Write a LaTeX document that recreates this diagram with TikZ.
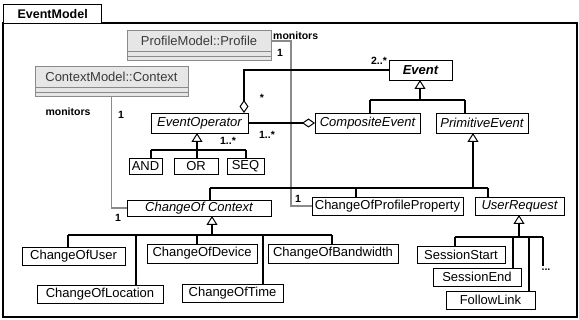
\documentclass[tikz,border=0pt]{standalone}
\usepackage{fontspec}
\setmainfont{Liberation Sans}
\usetikzlibrary{arrows.meta,calc}
\definecolor{gbox}{HTML}{E6E6E6}
\definecolor{gline}{HTML}{8A8A8A}
\definecolor{gtext}{HTML}{3A3A3A}
\begin{document}
\begin{tikzpicture}[x=1pt,y=-1pt,
  cls/.style={draw=black, line width=0.9pt, fill=white, inner sep=0pt, outer sep=0pt,
    anchor=north west, font=\fontsize{13}{15}\selectfont},
  abscls/.style={cls, font=\fontsize{13}{15}\selectfont\itshape},
  gcls/.style={draw=gline, line width=1pt, fill=gbox, inner sep=0pt, outer sep=0pt,
    anchor=north west},
  gtxt/.style={text=gtext, font=\fontsize{13}{15}\selectfont, inner sep=0pt},
  frm/.style={draw=black, line width=1.3pt},
  ln/.style={draw=black, line width=1.8pt},
  gen/.style={ln, -{Triangle[open, length=9pt, width=11pt, line width=1pt]}},
  agg/.style={ln, -{Diamond[open, length=13pt, width=9pt, line width=1pt]}},
  gln/.style={draw=gline, line width=1.2pt},
  lbl/.style={font=\bfseries\fontsize{10.5}{12}\selectfont, inner sep=0pt}
]
\useasboundingbox (0,0) rectangle (579,320);
% package frame
\draw[frm] (3,23) rectangle (577,317);
\node[frm, fill=white, anchor=north west, minimum width=98pt, minimum height=19pt, inner sep=0pt,
  font=\bfseries\fontsize{12.5}{14}\selectfont] (tab) at (3,4) {EventModel};

% gray classes
\node[gcls, minimum width=144pt, minimum height=30pt] (Profile) at (127,31) {};
\node[gtxt] (ProfileName) at ($(Profile.north)+(0,10)$) {ProfileModel::Profile};
\draw[gln, line width=0.8pt] ($(Profile.north west)+(0,20)$) -- ($(Profile.north east)+(0,20)$);
\draw[gln, line width=0.8pt] ($(Profile.north west)+(0,25)$) -- ($(Profile.north east)+(0,25)$);

\node[gcls, minimum width=153pt, minimum height=30pt] (Context) at (35,67) {};
\node[gtxt] (ContextName) at ($(Context.north)+(0,10)$) {ContextModel::Context};
\draw[gln, line width=0.8pt] ($(Context.north west)+(0,20)$) -- ($(Context.north east)+(0,20)$);
\draw[gln, line width=0.8pt] ($(Context.north west)+(0,25)$) -- ($(Context.north east)+(0,25)$);

% classes
\node[cls, minimum width=63pt, minimum height=20pt, font=\fontsize{13}{15}\selectfont\bfseries\itshape] (Event) at (389,60) {Event};
\node[abscls, minimum width=97pt, minimum height=20pt] (EvOp) at (151,113) {EventOperator};
\node[abscls, minimum width=105pt, minimum height=20pt] (Comp) at (315,113) {CompositeEvent};
\node[abscls, minimum width=92pt, minimum height=20pt] (Prim) at (436,113) {PrimitiveEvent};
\node[cls, minimum width=33pt, minimum height=16pt] (AND) at (129,158) {AND};
\node[cls, minimum width=44pt, minimum height=16pt] (OR) at (174,158) {OR};
\node[cls, minimum width=37pt, minimum height=16pt] (SEQ) at (227,158) {SEQ};
\node[abscls, minimum width=144pt, minimum height=16pt] (CoC) at (127,200) {ChangeOf Context};
\node[cls, minimum width=151pt, minimum height=18pt] (CoPP) at (312,197) {ChangeOfProfileProperty};
\node[abscls, minimum width=89pt, minimum height=18pt] (UR) at (475,197) {UserRequest};
\node[cls, minimum width=103pt, minimum height=18pt] (CoU) at (22,247) {ChangeOfUser};
\node[cls, minimum width=110pt, minimum height=19pt] (CoD) at (147,244) {ChangeOfDevice};
\node[cls, minimum width=130pt, minimum height=19pt] (CoB) at (268,244) {ChangeOfBandwidth};
\node[cls, minimum width=126pt, minimum height=18pt] (CoL) at (37,285) {ChangeOfLocation};
\node[cls, minimum width=101pt, minimum height=18pt] (CoT) at (182,284) {ChangeOfTime};
\node[cls, minimum width=88pt, minimum height=17pt] (SS) at (417,246) {SessionStart};
\node[cls, minimum width=88pt, minimum height=18pt] (SE) at (433,268) {SessionEnd};
\node[cls, minimum width=89pt, minimum height=18pt] (FL) at (446,291) {FollowLink};

% gray associations
\draw[gln] ($(Profile.north east)+(0,10)$) -- ++(20,0) |- (CoPP.west);
\draw[gln] (Context.south) |- (CoC.west);

% aggregations
\draw[agg] (Event.west) -| ($(EvOp.north east)+(-4,0)$);
\draw[agg] (EvOp.east) -- (Comp.west);

% generalization: Event
\coordinate (jE) at (420,100);
\coordinate (jEl) at (370,100);
\coordinate (jEr) at (465,100);
\draw[ln] (jEl) -- (jEr);
\draw[ln] (jEl) -- (jEl |- Comp.north);
\draw[ln] (jEr) -- (jEr |- Prim.north);
\draw[gen] (jE) -- (jE |- Event.south);

% generalization: EventOperator
\coordinate (jO) at (197,150);
\coordinate (jOl) at (151,150);
\coordinate (jOr) at (246,150);
\draw[ln] (jOl) -- (jOr);
\draw[ln] (jOl) -- (jOl |- AND.north);
\draw[ln] (jO) -- (jO |- OR.north);
\draw[ln] (jOr) -- (jOr |- SEQ.north);
\draw[gen] (jO) -- (jO |- EvOp.south);

% generalization: PrimitiveEvent
\coordinate (jP) at (473,188);
\coordinate (jPl) at (210,188);
\coordinate (jPm) at (356,188);
\coordinate (jPr) at (488,188);
\draw[ln] (jPl) -- (jPr);
\draw[ln] (jPl) -- (jPl |- CoC.north);
\draw[ln] (jPm) -- (jPm |- CoPP.north);
\draw[ln] (jPr) -- (jPr |- UR.north);
\draw[gen] (jP) -- (jP |- Prim.south);

% generalization: ChangeOf Context
\coordinate (jC) at (212,235);
\coordinate (jC1) at (68,235);
\coordinate (jC2) at (136,235);
\coordinate (jC3) at (197,235);
\coordinate (jC4) at (263,235);
\coordinate (jC5) at (332,235);
\draw[ln] (jC1) -- (jC5);
\draw[ln] (jC1) -- (jC1 |- CoU.north);
\draw[ln] (jC2) -- (jC2 |- CoL.north);
\draw[ln] (jC3) -- (jC3 |- CoD.north);
\draw[ln] (jC4) -- (jC4 |- CoT.north);
\draw[ln] (jC5) -- (jC5 |- CoB.north);
\draw[gen] (jC) -- (jC |- CoC.south);

% generalization: UserRequest
\coordinate (jU) at (519,237);
\coordinate (jU1) at (455,237);
\coordinate (jU2) at (513,237);
\coordinate (jU3) at (529,237);
\coordinate (jU4) at (543,237);
\coordinate (dotsend) at (543,266);
\draw[ln] (jU1) -- (jU4);
\draw[ln] (jU1) -- (jU1 |- SS.north);
\draw[ln] (jU2) -- (jU2 |- SE.north);
\draw[ln] (jU3) -- (jU3 |- FL.north);
\draw[ln] (jU4) -- (dotsend);
\draw[gen] (jU) -- (jU |- UR.south);

% labels
\node[lbl, anchor=west] (l1) at (273,36) {monitors};
\node[lbl] (l2) at (280,53) {1};
\node[lbl] (l3) at (379,61) {2..*};
\node[lbl] (l4) at (262,98) {*};
\node[lbl] (l5) at (267,135) {1..*};
\node[lbl] (l6) at (228,141) {1..*};
\node[lbl] (l7) at (68,112) {monitors};
\node[lbl] (l8) at (121,115) {1};
\node[lbl] (l9) at (298,199) {1};
\node[lbl] (l10) at (118,218) {1};
\node[lbl] (l11) at (546,270) {...};
\end{tikzpicture}
\end{document}
